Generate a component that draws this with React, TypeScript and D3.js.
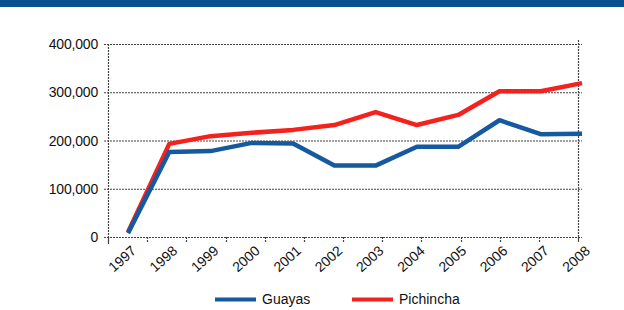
import React, { useEffect, useRef } from 'react';
import * as d3 from 'd3';

const WIDTH = 624;
const HEIGHT = 310;

const years = ['1997', '1998', '1999', '2000', '2001', '2002', '2003', '2004', '2005', '2006', '2007', '2008'];
const guayas = [8000, 176000, 178000, 195000, 194000, 148000, 148000, 187000, 187000, 242000, 213000, 214000];
const pichincha = [10000, 193000, 209000, 216000, 222000, 232000, 259000, 232000, 253000, 302000, 302000, 319000];
const yTicks = [0, 100000, 200000, 300000, 400000];

const series = [
  { name: 'Guayas', values: guayas, color: '#15599f' },
  { name: 'Pichincha', values: pichincha, color: '#f5211d' },
];

const FONT = '"Liberation Sans", Arial, sans-serif';
const AXIS_COLOR = '#444';

export default function App() {
  const svgRef = useRef<SVGSVGElement | null>(null);

  useEffect(() => {
    if (!svgRef.current) {
      return;
    }
    const svg = d3.select(svgRef.current);
    svg.selectAll('*').remove();

    const left = 108;
    const right = 578;
    const top = 44;
    const bottom = 237;

    // header band
    svg.append('rect').attr('x', 0).attr('y', 0).attr('width', WIDTH).attr('height', 7).attr('fill', '#0a5190');

    const y = d3.scaleLinear().domain([0, 400000]).range([bottom, top]);
    const band = d3.scaleBand<string>().domain(years).range([left, right]);
    const x = d3.scalePoint<string>().domain(years).range([128, 582]);

    const grid = svg.append('g')
      .attr('stroke', AXIS_COLOR)
      .attr('stroke-width', 1.2)
      .attr('stroke-dasharray', '2,1')
      .attr('fill', 'none');

    yTicks.forEach(t => {
      grid.append('line')
        .attr('x1', left - 4).attr('x2', right + 4)
        .attr('y1', y(t) + 0.5).attr('y2', y(t) + 0.5);
    });
    grid.append('line').attr('x1', left + 0.5).attr('x2', left + 0.5).attr('y1', top).attr('y2', bottom + 8);
    grid.append('line').attr('x1', right + 0.5).attr('x2', right + 0.5).attr('y1', top - 4).attr('y2', bottom + 4);

    const boundaries = years.map(yr => band(yr) ?? 0).concat([right]);
    boundaries.forEach(bx => {
      grid.append('line')
        .attr('x1', Math.round(bx) + 0.5).attr('x2', Math.round(bx) + 0.5)
        .attr('y1', bottom).attr('y2', bottom + 6);
    });

    svg.append('g')
      .attr('font-family', FONT)
      .attr('font-size', 14)
      .attr('fill', '#111')
      .attr('text-anchor', 'end')
      .selectAll('text')
      .data(yTicks)
      .join('text')
      .attr('x', 98)
      .attr('y', d => y(d))
      .attr('dy', '0.36em')
      .attr('letter-spacing', -0.2)
      .text(d => d3.format(',')(d));

    svg.append('g')
      .attr('font-family', FONT)
      .attr('font-size', 14)
      .attr('fill', '#111')
      .attr('text-anchor', 'end')
      .selectAll('text')
      .data(years)
      .join('text')
      .attr('transform', d => `translate(${(x(d) ?? 0) + 9},${bottom + 15}) rotate(-42)`)
      .text(d => d);

    const line = d3.line<number>()
      .x((_, i) => x(years[i]) ?? 0)
      .y(d => y(d));

    [series[1], series[0]].forEach(s => {
      svg.append('path')
        .datum(s.values)
        .attr('d', line)
        .attr('fill', 'none')
        .attr('stroke', s.color)
        .attr('stroke-width', 4.5)
        .attr('stroke-linejoin', 'round');
    });

    const legend = svg.append('g').attr('font-family', FONT).attr('font-size', 14).attr('fill', '#111');
    const legendX = [215, 352];
    series.forEach((s, i) => {
      legend.append('line')
        .attr('x1', legendX[i]).attr('x2', legendX[i] + 41)
        .attr('y1', 299.5).attr('y2', 299.5)
        .attr('stroke', s.color)
        .attr('stroke-width', 4);
      legend.append('text')
        .attr('x', legendX[i] + 47)
        .attr('y', 304)
        .text(s.name);
    });
  }, []);

  return (
    <div style={{ position: 'absolute', left: 0, top: 0, width: WIDTH, height: HEIGHT, background: '#fff' }}>
      <svg ref={svgRef} width={WIDTH} height={HEIGHT} role="img" aria-label="Guayas and Pichincha 1997-2008" />
    </div>
  );
}
